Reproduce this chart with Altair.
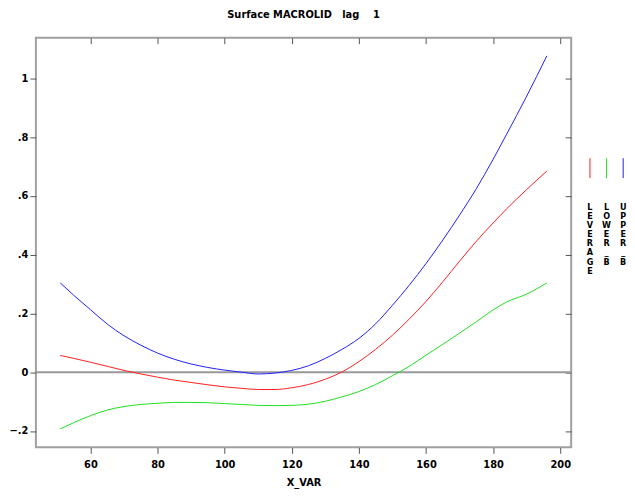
import altair as alt
import pandas as pd

# ---- data ----
x_vals = [51, 55, 60, 65, 70, 75, 80, 85, 90, 95, 100, 105, 110, 115, 120,
          125, 130, 135, 140, 145, 150, 155, 160, 165, 170, 175, 180, 184, 190, 196]
leverage = [0.057, 0.047, 0.034, 0.020, 0.006, -0.006, -0.017, -0.027, -0.035, -0.043,
            -0.050, -0.055, -0.059, -0.059, -0.053, -0.042, -0.024, 0.001, 0.036, 0.078,
            0.126, 0.181, 0.241, 0.308, 0.378, 0.446, 0.508, 0.556, 0.622, 0.685]
lower_b = [-0.193, -0.172, -0.148, -0.129, -0.117, -0.110, -0.106, -0.103, -0.103, -0.104,
           -0.107, -0.110, -0.113, -0.114, -0.113, -0.109, -0.099, -0.084, -0.066, -0.042,
           -0.012, 0.020, 0.058, 0.095, 0.133, 0.172, 0.212, 0.239, 0.266, 0.304]
upper_b = [0.304, 0.262, 0.213, 0.164, 0.124, 0.092, 0.065, 0.044, 0.028, 0.016,
           0.007, 0.000, -0.006, -0.003, 0.006, 0.022, 0.047, 0.078, 0.115, 0.165,
           0.228, 0.296, 0.370, 0.450, 0.535, 0.625, 0.725, 0.810, 0.940, 1.077]

series_names = ["LEVERAGE", "LOWER_B", "UPPER_B"]
series_colors = ["#ff2020", "#20e020", "#2020ff"]
x_ticks = [60, 80, 100, 120, 140, 160, 180, 200]
y_ticks = [-0.2, 0, 0.2, 0.4, 0.6, 0.8, 1.0]
x_domain = [43.75, 203.25]
y_domain = [-0.256, 1.139]
title_text = "Surface\u00a0MACROLID\u00a0\u00a0\u00a0lag\u00a0\u00a0\u00a0\u00a01"
x_title = "X_VAR"

# legend layout (row units of the legend panel)
legend_line_rows = (13.3, 15.5)
legend_text_row = 18.2
legend_rows_total = 45.2
legend_line_height = 9.2

FONT = "Liberation Sans Narrow, DejaVu Sans Condensed, Roboto Condensed, Arial Narrow, sans-serif"

# ---- tables ----
rows = []
for name, vals in zip(series_names, [leverage, lower_b, upper_b]):
    for xv, yv in zip(x_vals, vals):
        rows.append({"x": xv, "y": yv, "series": name})
df = pd.DataFrame(rows)

df_letters = pd.DataFrame({
    "series": series_names,
    "label": ["\n".join(list(n)) for n in series_names],
    "row": [legend_text_row] * 3,
})
df_lines = pd.DataFrame({"series": series_names,
                         "r0": [legend_line_rows[0]] * 3,
                         "r1": [legend_line_rows[1]] * 3})

W, H = 537, 411

color_scale = alt.Scale(domain=series_names, range=series_colors)
xs = alt.Scale(domain=x_domain, nice=False, zero=False)
ys = alt.Scale(domain=y_domain, nice=False, zero=False)

lbl_expr = "replace(format(datum.value, '.1~f'), '0.', '.')"

lines = alt.Chart(df).mark_line(strokeWidth=1, interpolate="monotone").encode(
    x=alt.X("x:Q", scale=xs,
            axis=alt.Axis(values=x_ticks, title=x_title, orient="bottom", tickSize=6,
                          domain=False, grid=False, labelPadding=5, titlePadding=7,
                          format="d", tickColor="#555555")),
    y=alt.Y("y:Q", scale=ys,
            axis=alt.Axis(values=y_ticks, title=None, orient="left", tickSize=6,
                          domain=False, grid=False, labelPadding=2, labelExpr=lbl_expr,
                          minExtent=27, maxExtent=27, tickColor="#555555")),
    color=alt.Color("series:N", scale=color_scale, legend=None),
    detail="series:N",
)

zero = alt.Chart(pd.DataFrame({"zero": [0]})).mark_rule(color="#999999", strokeWidth=2).encode(
    y=alt.Y("zero:Q", scale=ys,
            axis=alt.Axis(values=y_ticks, title=None, orient="right", tickSize=6, offset=-6,
                          labels=False, domain=False, grid=False, minExtent=0, maxExtent=0,
                          tickColor="#555555")),
)

top_axis = alt.Chart(df).mark_point(opacity=0).encode(
    x=alt.X("x:Q", scale=xs,
            axis=alt.Axis(values=x_ticks, title=None, orient="top", tickSize=6, offset=-6,
                          labels=False, domain=False, grid=False, minExtent=0, maxExtent=0,
                          tickColor="#555555")),
)

main = alt.layer(zero, lines, top_axis).resolve_axis(x="independent", y="independent").properties(
    width=W, height=H, title=title_text
)

lx = alt.X("series:N", scale=alt.Scale(type="point", padding=0.23, domain=series_names), axis=None)
ly_scale = alt.Scale(domain=[0, legend_rows_total], reverse=True, nice=False, zero=False)

leg_lines = alt.Chart(df_lines).mark_rule(strokeWidth=1).encode(
    x=lx,
    y=alt.Y("r0:Q", scale=ly_scale, axis=None),
    y2="r1:Q",
    color=alt.Color("series:N", scale=color_scale, legend=None),
)
leg_text = alt.Chart(df_letters).mark_text(
    font=FONT, fontSize=9, fontWeight="bold", color="black", baseline="top",
    lineBreak="\n", lineHeight=legend_line_height
).encode(
    x=lx,
    y=alt.Y("row:Q", scale=ly_scale, axis=None),
    text="label:N",
)
legend = alt.layer(leg_lines, leg_text).properties(
    width=41, height=H, title="\u00a0", view=alt.ViewBackground(strokeOpacity=0)
)

chart = alt.hconcat(main, legend, spacing=13).resolve_scale(
    x="independent", y="independent", color="shared"
).configure(
    padding={"top": -1, "left": 0, "right": 0, "bottom": 0}, font=FONT
).configure_view(
    stroke="#a0a0a0", strokeWidth=2
).configure_axis(
    labelFont=FONT, labelFontSize=11, labelFontWeight="bold", labelColor="black",
    titleFont=FONT, titleFontSize=11, titleFontWeight="bold", titleColor="black",
).configure_title(
    font=FONT, fontSize=11, fontWeight="bold", color="black", anchor="middle",
    offset=17.5, frame="group"
)

chart.save("out.html", embed_options={"renderer": "svg", "actions": False})
